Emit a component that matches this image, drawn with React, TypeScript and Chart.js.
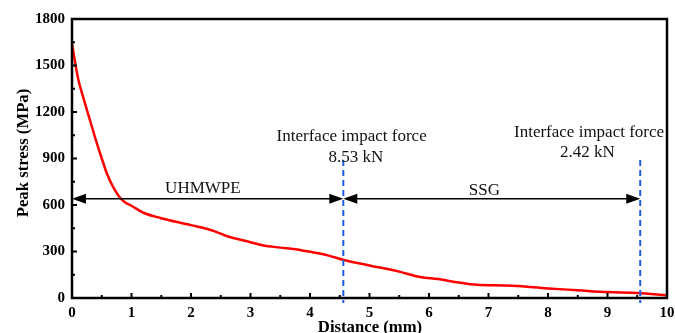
import React, { useEffect, useRef } from "react";
import { Chart, registerables } from "chart.js";

Chart.register(...registerables);

const distanceMm = [0, 0.1, 0.2, 0.3, 0.4, 0.5, 0.6, 0.7, 0.8, 0.9, 1.0, 1.2, 1.5, 2.0, 2.4, 2.6, 3.0, 3.2, 3.5, 3.75, 4.0, 4.3, 4.57, 5.0, 5.5, 5.85, 6.15, 6.5, 6.8, 7.3, 8.0, 8.5, 9.0, 9.5, 10.0];
const peakStress = [1640, 1420, 1280, 1150, 1020, 900, 790, 710, 650, 615, 595, 550, 515, 470, 430, 400, 360, 340, 325, 315, 298, 275, 245, 210, 170, 135, 122, 100, 85, 80, 62, 50, 38, 32, 18];

const xTicks = [0, 1, 2, 3, 4, 5, 6, 7, 8, 9, 10];
const yTicks = [0, 300, 600, 900, 1200, 1500, 1800];

const interfaceX = [4.56, 9.55];
const interfaceLineTop = 890;
const arrowLevel = 640;
const regionLabels = ["UHMWPE", "SSG"];
const regionLabelX = [2.2, 6.93];
const regionLabelY = [707, 694];
const forceTitle = "Interface impact force";
const forceValues = ["8.53 kN", "2.42 kN"];
const forceTitleX = [4.70, 8.69];
const forceTitleY = [1041, 1067];
const forceValueX = [4.77, 8.66];
const forceValueY = [906, 938];

const xTitle = "Distance (mm)";
const yTitle = "Peak stress (MPa)";

const SERIF = "'Liberation Serif', 'Times New Roman', serif";

const decorPlugin = {
  id: "decor",
  afterDatasetsDraw(chart: any) {
    const { ctx, chartArea, scales } = chart;
    const xs = scales.x;
    const ys = scales.y;
    ctx.save();
    // dashed interface lines
    ctx.strokeStyle = "#1f5ce6";
    ctx.lineWidth = 2;
    ctx.setLineDash([6, 4]);
    interfaceX.forEach((v) => {
      const px = xs.getPixelForValue(v);
      ctx.beginPath();
      ctx.moveTo(px, ys.getPixelForValue(interfaceLineTop));
      ctx.lineTo(px, chartArea.bottom + 5);
      ctx.stroke();
    });
    ctx.setLineDash([]);
    // arrows
    const ay = ys.getPixelForValue(arrowLevel);
    const bounds = [0, interfaceX[0], interfaceX[1]];
    const drawHead = (tip: number, dir: number) => {
      ctx.beginPath();
      ctx.moveTo(tip, ay);
      ctx.lineTo(tip + dir * 14, ay - 5);
      ctx.lineTo(tip + dir * 14, ay + 5);
      ctx.closePath();
      ctx.fill();
    };
    ctx.strokeStyle = "#000";
    ctx.fillStyle = "#000";
    ctx.lineWidth = 1.5;
    for (let i = 0; i < 2; i++) {
      const a = xs.getPixelForValue(bounds[i]);
      const b = xs.getPixelForValue(bounds[i + 1]);
      ctx.beginPath();
      ctx.moveTo(a + 10, ay);
      ctx.lineTo(b - 10, ay);
      ctx.stroke();
      drawHead(a, 1);
      drawHead(b, -1);
    }
    // texts
    ctx.fillStyle = "#111";
    ctx.font = `17px ${SERIF}`;
    ctx.textAlign = "center";
    ctx.textBaseline = "middle";
    regionLabels.forEach((t, i) => {
      ctx.fillText(t, xs.getPixelForValue(regionLabelX[i]), ys.getPixelForValue(regionLabelY[i]));
    });
    forceValues.forEach((t, i) => {
      ctx.fillText(forceTitle, xs.getPixelForValue(forceTitleX[i]), ys.getPixelForValue(forceTitleY[i]));
      ctx.fillText(t, xs.getPixelForValue(forceValueX[i]), ys.getPixelForValue(forceValueY[i]));
    });
    ctx.restore();
  },
  afterDraw(chart: any) {
    const { ctx, chartArea, scales } = chart;
    const xs = scales.x;
    const ys = scales.y;
    const { left, right, top, bottom } = chartArea;
    ctx.save();
    ctx.strokeStyle = "#000";
    ctx.lineWidth = 2.5;
    ctx.strokeRect(left, top, right - left, bottom - top);
    // inside ticks
    ctx.lineWidth = 2;
    for (let v = 0; v <= 10; v += 0.5) {
      const px = xs.getPixelForValue(v);
      const len = Number.isInteger(v) ? 5 : 3;
      ctx.beginPath();
      ctx.moveTo(px, bottom);
      ctx.lineTo(px, bottom - len);
      ctx.stroke();
    }
    for (let v = 0; v <= 1800; v += 150) {
      const py = ys.getPixelForValue(v);
      const len = v % 300 === 0 ? 5 : 3;
      ctx.beginPath();
      ctx.moveTo(left, py);
      ctx.lineTo(left + len, py);
      ctx.stroke();
    }
    // axis titles
    ctx.fillStyle = "#000";
    ctx.font = `bold 16.7px ${SERIF}`;
    ctx.textAlign = "center";
    ctx.textBaseline = "middle";
    ctx.fillText(xTitle, (left + right) / 2 + 0.5, 328);
    ctx.translate(24, 153);
    ctx.rotate(-Math.PI / 2);
    ctx.fillText(yTitle, 0, 0);
    ctx.restore();
  },
};

export default function App() {
  const ref = useRef<HTMLCanvasElement | null>(null);
  useEffect(() => {
    document.body.style.margin = "0";
    const canvas = ref.current;
    if (!canvas) return;
    const chart = new Chart(canvas, {
      type: "line",
      data: {
        datasets: [
          {
            data: distanceMm.map((x, i) => ({ x, y: peakStress[i] })),
            borderColor: "#ff0000",
            borderWidth: 2.5,
            pointRadius: 0,
            cubicInterpolationMode: "monotone",
            fill: false,
          },
        ],
      },
      options: {
        animation: false,
        responsive: false,
        devicePixelRatio: 1,
        layout: { padding: { top: 19, right: 8, left: 0, bottom: 0 } },
        plugins: { legend: { display: false }, tooltip: { enabled: false } },
        scales: {
          x: {
            type: "linear",
            min: 0,
            max: 10,
            afterBuildTicks: (s: any) => {
              s.ticks = xTicks.map((value) => ({ value }));
            },
            afterFit: (s: any) => {
              s.height = 35;
              s.paddingLeft = 0;
              s.paddingRight = 0;
            },
            grid: { display: false, drawTicks: false },
            border: { display: false },
            ticks: {
              padding: 6,
              color: "#000",
              font: { family: SERIF, size: 15, weight: "bold" },
              maxRotation: 0,
              callback: (v: any) => String(v),
            },
          },
          y: {
            type: "linear",
            min: 0,
            max: 1800,
            afterBuildTicks: (s: any) => {
              s.ticks = yTicks.map((value) => ({ value }));
            },
            afterFit: (s: any) => {
              s.width = 72;
              s.paddingTop = 0;
              s.paddingBottom = 0;
            },
            grid: { display: false, drawTicks: false },
            border: { display: false },
            ticks: {
              padding: 7,
              color: "#000",
              font: { family: SERIF, size: 15, weight: "bold" },
              callback: (v: any) => String(v),
            },
          },
        },
      },
      plugins: [decorPlugin],
    } as any);
    return () => chart.destroy();
  }, []);
  return <canvas ref={ref} width={675} height={333} style={{ display: "block" }} />;
}
